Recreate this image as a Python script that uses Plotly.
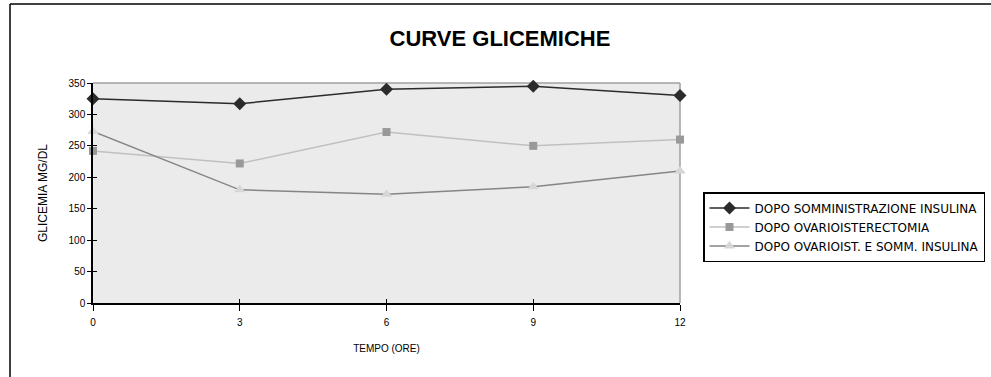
import plotly.graph_objects as go

# Blood glucose curves (mg/dL) measured over time (hours)
ore = [0, 3, 6, 9, 12]
dopo_somm_insulina = [325, 317, 340, 345, 330]
dopo_ovarioisterectomia = [242, 222, 272, 250, 260]
dopo_ovarioist_somm_insulina = [273, 180, 173, 185, 210]

y_ticks = [0, 50, 100, 150, 200, 250, 300, 350]
x_ticks = [0, 3, 6, 9, 12]

FONT = "Liberation Sans, Arial, sans-serif"
WIDE = "DejaVu Sans, sans-serif"

fig = go.Figure()

fig.add_trace(go.Scatter(
    x=ore, y=dopo_somm_insulina, mode="lines+markers",
    name="DOPO SOMMINISTRAZIONE INSULINA",
    line=dict(color="#2b2b2b", width=1.5),
    marker=dict(symbol="diamond", size=10, color="#2b2b2b"),
    cliponaxis=False,
))
fig.add_trace(go.Scatter(
    x=ore, y=dopo_ovarioisterectomia, mode="lines+markers",
    name="DOPO OVARIOISTERECTOMIA",
    line=dict(color="#c0c0c0", width=1.5),
    marker=dict(symbol="square", size=8, color="#999999"),
    cliponaxis=False,
))
fig.add_trace(go.Scatter(
    x=ore, y=dopo_ovarioist_somm_insulina, mode="lines+markers",
    name="DOPO OVARIOIST. E SOMM. INSULINA",
    line=dict(color="#858585", width=1.5),
    marker=dict(symbol="triangle-up", size=10, color="#d6d6d6"),
    cliponaxis=False,
))

# Invisible trace on the overlay axes so the inner tick marks are drawn
fig.add_trace(go.Scatter(x=[0], y=[0], xaxis="x2", yaxis="y2",
                         mode="markers", marker=dict(opacity=0),
                         showlegend=False, hoverinfo="skip"))

axis_font = dict(family=FONT, size=10, color="#000000")

fig.update_layout(
    width=991, height=377,
    margin=dict(l=93, r=311, t=83, b=74, autoexpand=False),
    paper_bgcolor="#ffffff",
    plot_bgcolor="#ebebeb",
    font=dict(family=FONT, color="#000000"),
    title=dict(text="<b>CURVE GLICEMICHE</b>", x=500 / 991, xanchor="center",
               y=1 - 38 / 377, yanchor="middle",
               font=dict(family=FONT, size=22, color="#000000")),
    xaxis=dict(range=[0, 12], tickvals=x_ticks, ticks="outside", ticklen=6,
               tickcolor="#000000", showline=True, linecolor="#000000",
               linewidth=1.5, showgrid=False, zeroline=False,
               tickfont=axis_font, mirror=False, ticklabelstandoff=3,
               title=dict(text="TEMPO (ORE)", font=axis_font, standoff=18)),
    yaxis=dict(range=[0, 350], tickvals=y_ticks, ticks="outside", ticklen=4,
               tickcolor="#000000", showline=True, linecolor="#000000",
               linewidth=1.5, showgrid=False, zeroline=False,
               tickfont=axis_font,
               title=dict(text="GLICEMIA MG/DL",
                          font=dict(family=FONT, size=12, color="#000000"),
                          standoff=18)),
    xaxis2=dict(range=[0, 12], tickvals=x_ticks, ticks="inside", ticklen=4,
                tickcolor="#000000", overlaying="x", showticklabels=False,
                showgrid=False, zeroline=False, showline=False),
    yaxis2=dict(range=[0, 350], tickvals=y_ticks, ticks="inside", ticklen=4,
                tickcolor="#000000", overlaying="y", showticklabels=False,
                showgrid=False, zeroline=False, showline=False),
    legend=dict(x=(703 - 93) / 587, y=(303 - 192) / 220,
                xanchor="left", yanchor="top",
                bgcolor="#ffffff", bordercolor="#000000", borderwidth=1.5,
                font=dict(family=WIDE, size=12, color="#000000"),
                itemwidth=40, tracegroupgap=0),
    showlegend=True,
)

# Gray frame on the top and right of the plotting area
fig.add_shape(type="line", xref="paper", yref="paper", x0=0, x1=1, y0=1, y1=1,
              line=dict(color="#a0a0a0", width=1.5), layer="below")
fig.add_shape(type="line", xref="paper", yref="paper", x0=1, x1=1, y0=0, y1=1,
              line=dict(color="#a0a0a0", width=1.5), layer="below")

# Outer chart border (top and left edges)
bx = (10 - 93) / 587
by = (303 - 4) / 220
fig.add_shape(type="line", xref="paper", yref="paper", x0=bx, x1=2.0, y0=by, y1=by,
              line=dict(color="#000000", width=1.5))
fig.add_shape(type="line", xref="paper", yref="paper", x0=bx, x1=bx, y0=-1.0, y1=by,
              line=dict(color="#000000", width=1.5))

fig.write_html("out.html")
